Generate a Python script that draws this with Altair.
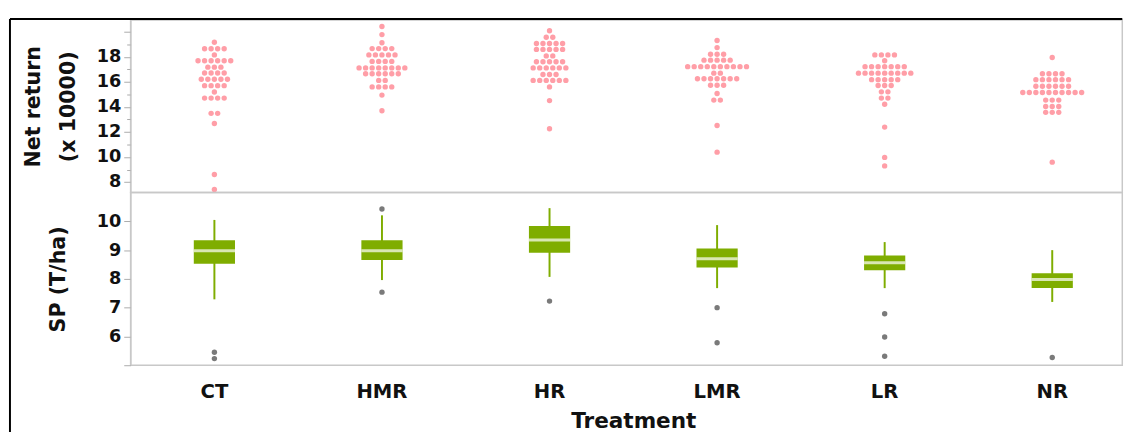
import altair as alt
import pandas as pd

# treatments, left to right
trt = ["CT", "HMR", "HR", "LMR", "LR", "NR"]

# dot plot (net return, x 10000): stacked value rows and how many dots each row holds
ct_vals = [19.17, 18.65, 18.16, 17.69, 17.18, 16.71, 16.21, 15.70, 15.20, 14.71, 13.49, 12.68, 8.61, 7.41]
ct_cnts = [1, 4, 1, 6, 3, 4, 5, 4, 1, 4, 2, 1, 1, 1]
hmr_vals = [20.43, 19.78, 19.13, 18.66, 18.16, 17.64, 17.12, 16.65, 16.12, 15.60, 14.95, 13.70]
hmr_cnts = [1, 1, 1, 4, 5, 4, 8, 6, 2, 4, 1, 1]
hr_vals = [20.09, 19.57, 19.07, 18.60, 18.08, 17.61, 17.12, 16.59, 16.12, 15.60, 14.51, 12.26]
hr_cnts = [1, 2, 5, 5, 2, 5, 6, 3, 6, 1, 1, 1]
lmr_vals = [19.31, 18.74, 18.21, 17.74, 17.22, 16.70, 16.25, 15.73, 15.08, 14.55, 12.52, 10.39]
lmr_cnts = [1, 1, 3, 5, 10, 2, 7, 3, 1, 2, 1, 1]
lr_vals = [18.16, 17.69, 17.22, 16.70, 16.18, 15.71, 15.21, 14.71, 14.22, 12.39, 9.97, 9.29]
lr_cnts = [4, 1, 7, 9, 5, 3, 2, 2, 1, 1, 1, 1]
nr_vals = [17.95, 16.65, 16.18, 15.65, 15.16, 14.55, 14.04, 13.57, 9.59]
nr_cnts = [1, 4, 6, 6, 10, 3, 3, 3, 1]

# box plot (SP, T/ha)
wlo = [7.29, 7.96, 8.07, 7.68, 7.68, 7.20]
q1 = [8.53, 8.66, 8.91, 8.40, 8.30, 7.68]
med = [8.98, 8.98, 9.35, 8.70, 8.56, 7.98]
q3 = [9.34, 9.34, 9.84, 9.06, 8.81, 8.20]
whi = [10.05, 10.21, 10.46, 9.87, 9.28, 9.00]
out_trt = ["CT", "CT", "HMR", "HMR", "HR", "LMR", "LMR", "LR", "LR", "LR", "NR"]
out_val = [5.45, 5.23, 10.43, 7.54, 7.23, 7.00, 5.78, 6.79, 5.98, 5.31, 5.27]

PINK = "#ff9ea7"
GREEN = "#7fad00"
GREY = "#c8c8c8"
FONT = "DejaVu Sans"

rows = []
for t, vals, cnts in zip(trt, [ct_vals, hmr_vals, hr_vals, lmr_vals, lr_vals, nr_vals],
                         [ct_cnts, hmr_cnts, hr_cnts, lmr_cnts, lr_cnts, nr_cnts]):
    for v, n in zip(vals, cnts):
        for j in range(n):
            rows.append({"trt": t, "val": v, "off": j - (n - 1) / 2})
dfDots = pd.DataFrame(rows)
dfBox = pd.DataFrame({"trt": trt, "wlo": wlo, "q1": q1, "med": med, "q3": q3, "whi": whi})
dfOut = pd.DataFrame({"trt": out_trt, "val": out_val})

W, H = 1011, 176
xscale = alt.Scale(domain=trt, range=[0, 1025], paddingInner=0, paddingOuter=0)
xtop = alt.X("trt:N", sort=trt, scale=xscale, axis=None)

yTop = alt.Y("val:Q", scale=alt.Scale(domain=[7.16, 20.95], nice=False, zero=False),
             axis=alt.Axis(values=list(range(8, 21)), title=["Net return", "(x 10000)"],
                           labelExpr="datum.value % 2 == 0 && datum.value <= 18 ? datum.label : ''",
                           labelOverlap=False,
                           tickSize={"condition": {"test": "datum.value % 2 == 0", "value": 7}, "value": 4},
                           titleX=-99, titleBaseline="middle", titleLineHeight=36))

dots = alt.Chart(dfDots).mark_circle(size=30, color=PINK, opacity=1).encode(
    x=xtop,
    xOffset=alt.XOffset("off:Q", scale=alt.Scale(domain=[-6, 6], range=[45.4, 125.4], nice=False, zero=False)),
    y=yTop)

one = pd.DataFrame({"a": [0]})
frameV = alt.Chart(one).mark_rule(color="black", strokeWidth=2).encode(
    x=alt.value(-123), y=alt.value(-1), y2=alt.value(420))
frameH = alt.Chart(one).mark_rule(color="black", strokeWidth=2).encode(
    x=alt.value(-123), x2=alt.value(W), y=alt.value(-1))

top = alt.layer(dots, frameV, frameH).properties(width=W, height=H)

botScale = alt.Scale(domain=[5, 11], nice=False, zero=False)
botAxis = alt.Axis(values=[5 + 0.5 * i for i in range(12)], title="SP (T/ha)", format="d",
                   labelExpr="datum.value == 6 || datum.value == 7 || datum.value == 8 || datum.value == 9 || datum.value == 10 ? datum.label : ''",
                   labelOverlap=False,
                   tickSize={"condition": {"test": "datum.value % 1 == 0", "value": 7}, "value": 4},
                   titleX=-73, titleBaseline="middle")

def yBot(field):
    return alt.Y(field, scale=botScale, axis=botAxis)

xbot = alt.X("trt:N", sort=trt, scale=xscale,
             axis=alt.Axis(title="Treatment", labelAngle=0, ticks=False, domain=False,
                           labelPadding=17, titlePadding=9, labelFontSize=20, titleFontSize=22))

base = alt.Chart(dfBox).encode(x=xbot)
whisk = base.mark_rule(color=GREEN, strokeWidth=2).encode(y=yBot("wlo:Q"), y2="whi:Q")
box = base.mark_bar(color=GREEN, size=42).encode(y=yBot("q1:Q"), y2="q3:Q")
mline = base.mark_tick(color="white", size=42, thickness=3).encode(y=yBot("med:Q"))
outs = alt.Chart(dfOut).mark_circle(size=30, color="#7a7a7a", opacity=1).encode(
    x=xbot, y=yBot("val:Q"))

bottom = alt.layer(whisk, box, mline, outs).properties(width=W, height=H)

chart = alt.vconcat(top, bottom, spacing=0, bounds="flush").resolve_scale(
    x="independent", y="independent", xOffset="independent"
).properties(padding={"left": 0, "top": 5, "right": 0, "bottom": 0}).configure_view(
    stroke=GREY, strokeWidth=1.5
).configure_axis(
    labelFont=FONT, labelFontWeight="bold", labelFontSize=18, labelColor="#111",
    titleFont=FONT, titleFontWeight="bold", titleFontSize=21, titleColor="#111",
    domainColor=GREY, tickColor="#aaa", labelPadding=3, grid=False
)

chart.save("out.html", embed_options={"renderer": "svg", "actions": False})
